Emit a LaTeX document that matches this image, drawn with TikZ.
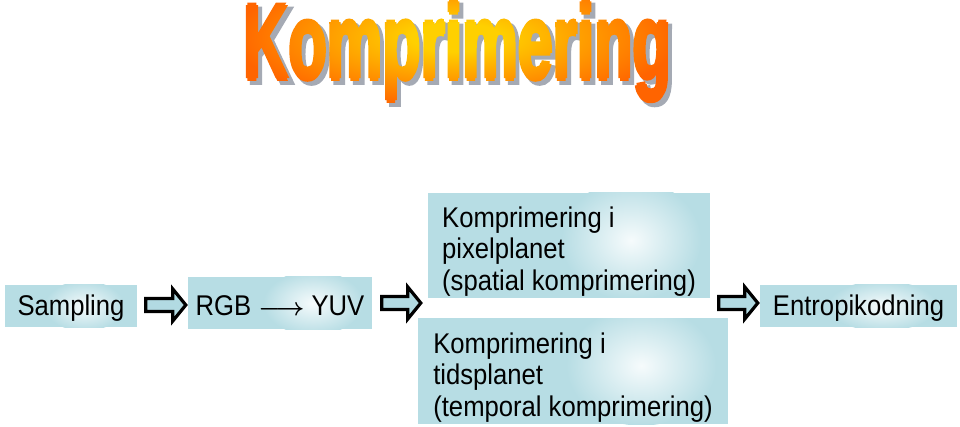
\documentclass[tikz,border=0pt]{standalone}
\usepackage{fontspec}
\setmainfont{Liberation Sans}
\newfontfamily\boxfont{Liberation Sans}[FakeStretch=0.9]
\newfontfamily\titlefont{Liberation Sans}
\newfontfamily\shadowfont{Liberation Sans}[BoldFeatures={FakeBold=5}]
\usetikzlibrary{calc}
\definecolor{boxblue}{RGB}{183,221,228}
\definecolor{hlcol}{RGB}{246,251,252}
\definecolor{arrfill}{RGB}{178,218,226}
\definecolor{ttlin}{RGB}{255,208,0}
\definecolor{ttlout}{RGB}{255,100,0}
\definecolor{ttlshadow}{RGB}{165,170,180}
\pgfdeclareradialshading{ttlshade}{\pgfpoint{0bp}{0bp}}{color(0bp)=(ttlin); color(5bp)=(ttlin); color(25bp)=(ttlout); color(50bp)=(ttlout)}
\newcommand\ttlraw{{\fontsize{106}{110}\titlefont\bfseries Komprimering}}
\newcommand\ttlcopy[2]{\rlap{\kern#1\raisebox{#2}{\ttlraw}}}
\tikzset{
  glowbox/.style n args={4}{fill=boxblue, draw=none, inner sep=0pt,
    font=\boxfont\fontsize{28.5}{31.5}\selectfont,
    path picture={
      \coordinate (gx) at ($(path picture bounding box.north west)!#1!(path picture bounding box.north east)$);
      \coordinate (gy) at ($(path picture bounding box.north west)!#2!(path picture bounding box.south west)$);
      \shade[inner color=hlcol, outer color=boxblue] (gx |- gy) circle[x radius=#3, y radius=#4];
    }},
  blockarrow/.style={draw=black, fill=arrfill, line width=3.2pt, line join=miter},
  titlepart/.style={inner sep=0pt},
}
\newcommand\blockarr[2]{%
  \draw[blockarrow] let \p1=(#1), \p2=(#2) in
    ({\x1+1.5pt},{\y1+6.5pt}) -- ({\x2-15pt},{\y1+6.5pt}) -- ({\x2-15pt},{\y1+16pt}) --
    ({\x2-2pt},\y1) -- ({\x2-15pt},{\y1-16pt}) -- ({\x2-15pt},{\y1-6.5pt}) --
    ({\x1+1.5pt},{\y1-6.5pt}) -- cycle;}
\begin{document}
\begin{tikzpicture}[x=1pt,y=-1pt]
  \useasboundingbox (0,0) rectangle (960,427);
  \fill[white] (0,0) rectangle (960,427);
  % title: grey shadow, then the letters used as a clip for a radial shading
  \node[titlepart, text=ttlshadow] (tshadow) at (461,55)
    {\scalebox{0.59}[1]{\fontsize{106}{110}\shadowfont\bfseries Komprimering}};
  \node[titlepart] (title) at (457,51) {\scalebox{0.59}[1]{%
    \special{pdf:literal direct q 7 Tr}%
    \ttlcopy{2.7pt}{0pt}\ttlcopy{-2.7pt}{0pt}\ttlcopy{0pt}{2.6pt}\ttlcopy{0pt}{-2.6pt}%
    \ttlraw
    \special{pdf:literal direct 0 Tr}%
    \begin{tikzpicture}[overlay]
      \shade[shading=ttlshade] (-740pt,-30pt) rectangle (12pt,112pt);
    \end{tikzpicture}%
    \special{pdf:literal direct Q}}};
  % boxes
  \node[glowbox={0.6}{0.5}{40}{25}, minimum width=132, minimum height=42, text height=20pt, text depth=0pt] (samp) at (71,306) {Sampling};
  \node[glowbox={0.68}{0.5}{50}{32}, minimum width=184, minimum height=52, text height=26pt, text depth=0pt] (rgb) at (280,303)
    {RGB {\boldmath$\longrightarrow$} YUV};
  \node[glowbox={0.72}{0.45}{70}{60}, minimum width=282, minimum height=105, align=left] (spat) at (569,245.5)
    {\rule{0pt}{32pt}Komprimering i\\pixelplanet\\(spatial komprimering)};
  \node[glowbox={0.72}{0.45}{75}{60}, minimum width=310, minimum height=106, align=left] (temp) at (573,371)
    {\rule{0pt}{33pt}Komprimering i\\tidsplanet\\(temporal komprimering)};
  \node[glowbox={0.62}{0.5}{55}{25}, minimum width=197, minimum height=42, text height=20pt, text depth=0pt] (ent) at (858.5,306) {Entropikodning};
  % arrows
  \coordinate (a1s) at ($(samp.east)+(7,-1)$);
  \coordinate (a1e) at (rgb.west);
  \coordinate (a2s) at ($(rgb.east)+(8,0)$);
  \coordinate (a2e) at ($(spat.west |- rgb.east)+(-5,0)$);
  \coordinate (a3s) at ($(temp.east |- rgb.east)+(-11,0)$);
  \coordinate (a3e) at (ent.west);
  \blockarr{a1s}{a1e}
  \blockarr{a2s}{a2e}
  \blockarr{a3s}{a3e}
\end{tikzpicture}
\end{document}
